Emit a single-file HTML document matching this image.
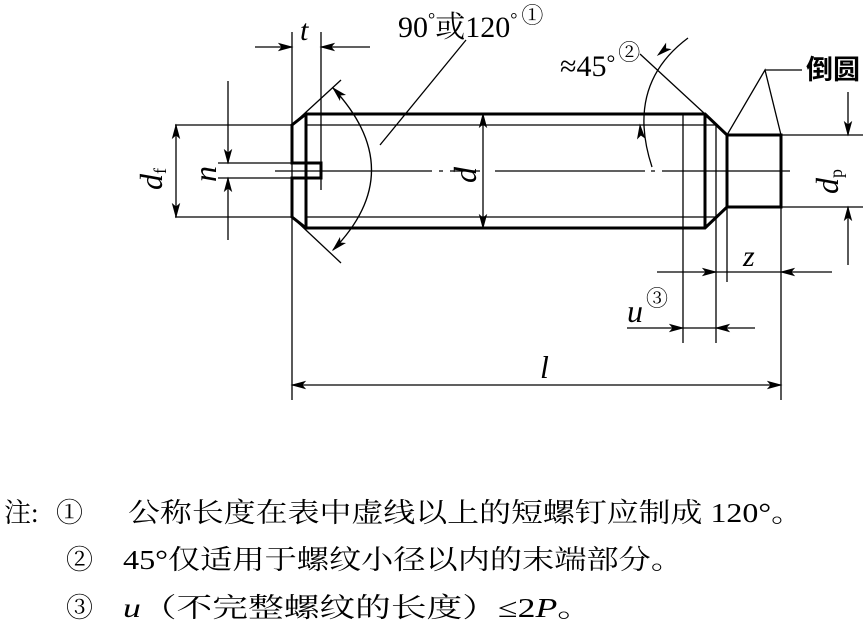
<!DOCTYPE html>
<html><head><meta charset="utf-8"><style>
html,body{margin:0;padding:0;background:#fff;}
svg{display:block;}
text{font-family:"Liberation Serif","Noto Serif CJK SC",serif;font-weight:normal;fill:#000;}
.cjk{font-family:"Liberation Serif","Noto Serif CJK SC","Noto Sans CJK SC",serif;}
.ah{fill:#000;stroke:#000;stroke-width:0.8;}
</style></head><body>
<svg width="868" height="631" viewBox="0 0 868 631" xmlns="http://www.w3.org/2000/svg">
<g stroke="#000" fill="none">
<g stroke-width="3">
<path d="M306,114 L705,114 L727,135 L781,135 L781,207 L727,207 L705,228 L306,228 L292,217 L292,178 L321,178 L321,163 L292,163 L292,125 Z"/>
<line x1="306" y1="114" x2="306" y2="228"/>
<line x1="705" y1="114" x2="705" y2="228"/>
<line x1="727" y1="135" x2="727" y2="207"/>
</g>
<g stroke-width="1.3">
<line x1="306" y1="125" x2="716" y2="125"/>
<line x1="306" y1="217" x2="716" y2="217"/>
<line x1="716" y1="125" x2="716" y2="343"/>
<line x1="683" y1="114" x2="683" y2="343"/>
<line x1="727" y1="207" x2="727" y2="282"/>
<line x1="781" y1="207" x2="781" y2="400"/>
<path d="M275,171 H432 M439,171 H443 M450,171 H480 M495,171 H645 M651,171 H655 M662,171 H790"/>
<line x1="292" y1="32" x2="292" y2="400"/>
<line x1="321" y1="32" x2="321" y2="190"/>
<line x1="255" y1="47" x2="292" y2="47"/>
<line x1="370" y1="47" x2="321" y2="47"/>
<line x1="175" y1="125" x2="292" y2="125"/>
<line x1="175" y1="217" x2="292" y2="217"/>
<line x1="176" y1="125" x2="176" y2="217"/>
<line x1="218" y1="163" x2="292" y2="163"/>
<line x1="218" y1="178" x2="292" y2="178"/>
<line x1="228" y1="81" x2="228" y2="163"/>
<line x1="228" y1="240" x2="228" y2="178"/>
<line x1="483" y1="114" x2="483" y2="228"/>
<line x1="292" y1="125" x2="341" y2="80"/>
<line x1="292" y1="217" x2="341" y2="263"/>
<path d="M333,88 Q410,171 333,250"/>
<line x1="380" y1="145" x2="466" y2="40"/>
<line x1="640" y1="54" x2="705" y2="114"/>
<path d="M688,38 Q625,85 652,167"/>
<path d="M727,135 L765,70 L781,135 M765,70 H802"/>
<line x1="781" y1="135" x2="863" y2="135"/>
<line x1="781" y1="207" x2="863" y2="207"/>
<line x1="848" y1="92" x2="848" y2="135"/>
<line x1="848" y1="265" x2="848" y2="207"/>
<line x1="657" y1="272" x2="832" y2="272"/>
<line x1="627" y1="328" x2="755" y2="328"/>
<line x1="292" y1="385" x2="781" y2="385"/>
</g>
</g>
<polygon class="ah" points="292,47 279,43.5 282,47 279,50.5"/>
<polygon class="ah" points="321,47 334,43.5 331,47 334,50.5"/>
<polygon class="ah" points="176,125 172.5,138 176,135 179.5,138"/>
<polygon class="ah" points="176,217 172.5,204 176,207 179.5,204"/>
<polygon class="ah" points="228,163 224.5,150 228,153 231.5,150"/>
<polygon class="ah" points="228,178 224.5,191 228,188 231.5,191"/>
<polygon class="ah" points="483,114 479.5,127 483,124 486.5,127"/>
<polygon class="ah" points="483,228 479.5,215 483,218 486.5,215"/>
<polygon class="ah" points="333,88 344.7,94.7 340.1,95.1 339.7,99.7"/>
<polygon class="ah" points="333,250 344.7,243.3 340.1,242.9 339.7,238.3"/>
<polygon class="ah" points="658,55 665.7,43.9 665.7,48.6 670.2,49.3"/>
<polygon class="ah" points="640,125 644.6,137.7 640.9,135 637.6,138.3"/>
<polygon class="ah" points="848,135 844.5,122 848,125 851.5,122"/>
<polygon class="ah" points="848,207 844.5,220 848,217 851.5,220"/>
<polygon class="ah" points="716,272 703,268.5 706,272 703,275.5"/>
<polygon class="ah" points="781,272 794,268.5 791,272 794,275.5"/>
<polygon class="ah" points="683,328 670,324.5 673,328 670,331.5"/>
<polygon class="ah" points="716,328 729,324.5 726,328 729,331.5"/>
<polygon class="ah" points="292,385 305,381.5 302,385 305,388.5"/>
<polygon class="ah" points="781,385 768,381.5 771,385 768,388.5"/>
<text x="300" y="40" font-size="30" font-style="italic">t</text>
<text x="398" y="37" font-size="30" class="cjk">90<tspan dy="-12" font-size="18">°</tspan><tspan dy="12">或120</tspan><tspan dy="-12" font-size="18">°</tspan><tspan dy="-2" dx="4" font-size="22">①</tspan></text>
<text x="560" y="76" font-size="30">≈45<tspan dy="-6" font-size="22">°</tspan><tspan dy="-10" dx="3" font-size="22">②</tspan></text>
<text x="806" y="79" font-size="27" style="font-family:'Noto Sans CJK SC',sans-serif;font-weight:bold">倒圆</text>
<text transform="translate(162,190) rotate(-90)" font-size="32" font-style="italic">d<tspan font-size="18" font-style="normal" dy="4">f</tspan></text>
<text transform="translate(216,182) rotate(-90)" font-size="32" font-style="italic">n</text>
<text transform="translate(476,183) rotate(-90)" font-size="32" font-style="italic">d</text>
<text transform="translate(838,194) rotate(-90)" font-size="32" font-style="italic">d<tspan font-size="18" font-style="normal" dy="4">p</tspan></text>
<text x="743" y="266" font-size="30" font-style="italic">z</text>
<text x="627" y="322" font-size="32" font-style="italic">u</text>
<text x="646" y="306" font-size="22">③</text>
<text x="540" y="378" font-size="32" font-style="italic">l</text>
<text x="4" y="522" font-size="27" class="cjk">注:</text>
<text x="56" y="522" font-size="27">①</text>
<text x="128" y="522" font-size="27" class="cjk" textLength="675" lengthAdjust="spacingAndGlyphs">公称长度在表中虚线以上的短螺钉应制成 120°。</text>
<text x="66" y="569" font-size="27">②</text>
<text x="123" y="569" font-size="27" class="cjk" textLength="560" lengthAdjust="spacingAndGlyphs">45°仅适用于螺纹小径以内的末端部分。</text>
<text x="66" y="617" font-size="27">③</text>
<text x="123" y="617" font-size="27" class="cjk" textLength="470" lengthAdjust="spacingAndGlyphs"><tspan font-style="italic">u</tspan>（不完整螺纹的长度）≤2<tspan font-style="italic">P</tspan>。</text>
</svg>
</body></html>
